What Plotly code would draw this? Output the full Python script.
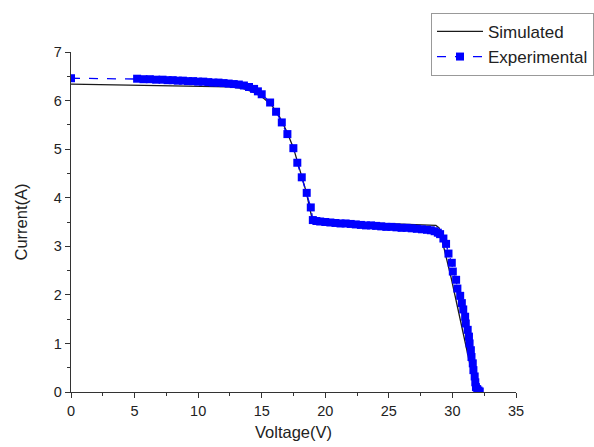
import plotly.graph_objects as go

# Simulated I-V curve
sim_v = [0, 5, 10, 12.5, 13.5, 14.3, 15.0, 15.7, 16.3, 17.0, 17.5, 18.0, 18.5, 18.85, 19.0,
         20, 25, 28.7, 28.95, 29.35, 29.9, 30.4, 30.9, 31.35, 31.85]
sim_i = [6.34, 6.32, 6.30, 6.28, 6.25, 6.18, 6.08, 5.93, 5.72, 5.35, 5.02, 4.58, 4.12, 3.70, 3.53,
         3.51, 3.47, 3.43, 3.38, 2.95, 2.35, 1.75, 1.15, 0.60, 0.0]

# Experimental I-V data
exp_v = [0.0, 5.2, 5.7, 6.2, 6.7, 7.2, 7.6, 8.0, 8.4, 8.8, 9.2, 9.6, 10.0, 10.4, 10.8, 11.2,
         11.6, 12.0, 12.4, 12.8, 13.2, 13.6, 14.0, 14.4, 14.7,
         15.0, 15.66, 16.13, 16.58, 17.02, 17.49, 17.80, 18.15, 18.54, 18.86, 19.02,
         19.3, 19.6, 20.0, 20.4, 20.8, 21.2, 21.6, 22.0, 22.4, 22.8, 23.2, 23.6, 24.0, 24.4,
         24.8, 25.2, 25.6, 26.0, 26.4, 26.8, 27.2, 27.6, 28.0, 28.3, 28.6, 28.85,
         29.03, 29.29, 29.5, 29.69, 29.95, 30.03, 30.29, 30.39, 30.61, 30.74, 30.85, 31.0,
         31.05, 31.2, 31.3, 31.35, 31.45, 31.5, 31.6, 31.65, 31.75, 31.8, 31.85, 31.95, 32.05, 32.15]
exp_i = [6.46, 6.45, 6.44, 6.44, 6.43, 6.43, 6.42, 6.42, 6.41, 6.41, 6.40, 6.40, 6.39, 6.39, 6.38, 6.37,
         6.37, 6.36, 6.35, 6.34, 6.33, 6.31, 6.28, 6.24, 6.19,
         6.13, 5.96, 5.77, 5.55, 5.31, 5.02, 4.72, 4.42, 4.10, 3.80, 3.54,
         3.52, 3.51, 3.50, 3.49, 3.48, 3.47, 3.47, 3.46, 3.45, 3.44, 3.43, 3.43, 3.42, 3.41,
         3.40, 3.40, 3.39, 3.38, 3.38, 3.37, 3.36, 3.35, 3.34, 3.33, 3.31, 3.28,
         3.25, 3.16, 3.05, 2.85, 2.66, 2.48, 2.31, 2.13, 1.98, 1.83, 1.70, 1.55,
         1.41, 1.28, 1.14, 1.00, 0.86, 0.72, 0.59, 0.45, 0.32, 0.20, 0.10, 0.06, 0.03, 0.01]

x_ticks = [0, 5, 10, 15, 20, 25, 30, 35]
y_ticks = [0, 1, 2, 3, 4, 5, 6, 7]

FONT = "Liberation Sans, Arial"

fig = go.Figure()
fig.add_trace(go.Scatter(x=sim_v, y=sim_i, mode="lines", name="Simulated",
                         line=dict(color="#1a1a1a", width=1.3)))
fig.add_trace(go.Scatter(x=exp_v, y=exp_i, mode="lines+markers", name="Experimental",
                         line=dict(color="#0000ff", width=1.3, dash="dash"),
                         marker=dict(symbol="square", size=8, color="#0000ff")))

axis_common = dict(showgrid=False, zeroline=False, showline=True, linecolor="#333333",
                   linewidth=1.3, ticks="outside", ticklen=5, tickwidth=1.2, tickcolor="#333333",
                   tickfont=dict(family=FONT, size=14.5, color="#222222"),
                   mirror=False)

fig.update_xaxes(range=[0, 35], tickvals=x_ticks, ticktext=[str(t) for t in x_ticks],
                 minor=dict(dtick=2.5, ticks="outside", ticklen=3, tickcolor="#333333"),
                 title=dict(text="Voltage(V)", standoff=8,
                            font=dict(family=FONT, size=16.5, color="#222222")),
                 **axis_common)
fig.update_yaxes(range=[0, 7], tickvals=y_ticks, ticktext=[str(t) for t in y_ticks],
                 minor=dict(dtick=0.5, ticks="outside", ticklen=3, tickcolor="#333333"),
                 title=dict(text="Current(A)", standoff=22,
                            font=dict(family=FONT, size=16.5, color="#222222")),
                 **axis_common)

fig.update_layout(
    width=594, height=447,
    margin=dict(l=71, r=78, t=52, b=55, autoexpand=False),
    plot_bgcolor="white", paper_bgcolor="white",
    font=dict(family=FONT),
    legend=dict(x=0.809, y=1.115, xanchor="left", yanchor="top",
                bordercolor="#999999", borderwidth=1, bgcolor="white",
                font=dict(size=17, color="#222222"), tracegroupgap=0,
                itemwidth=46),
    showlegend=True,
)

fig.write_html("out.html")
